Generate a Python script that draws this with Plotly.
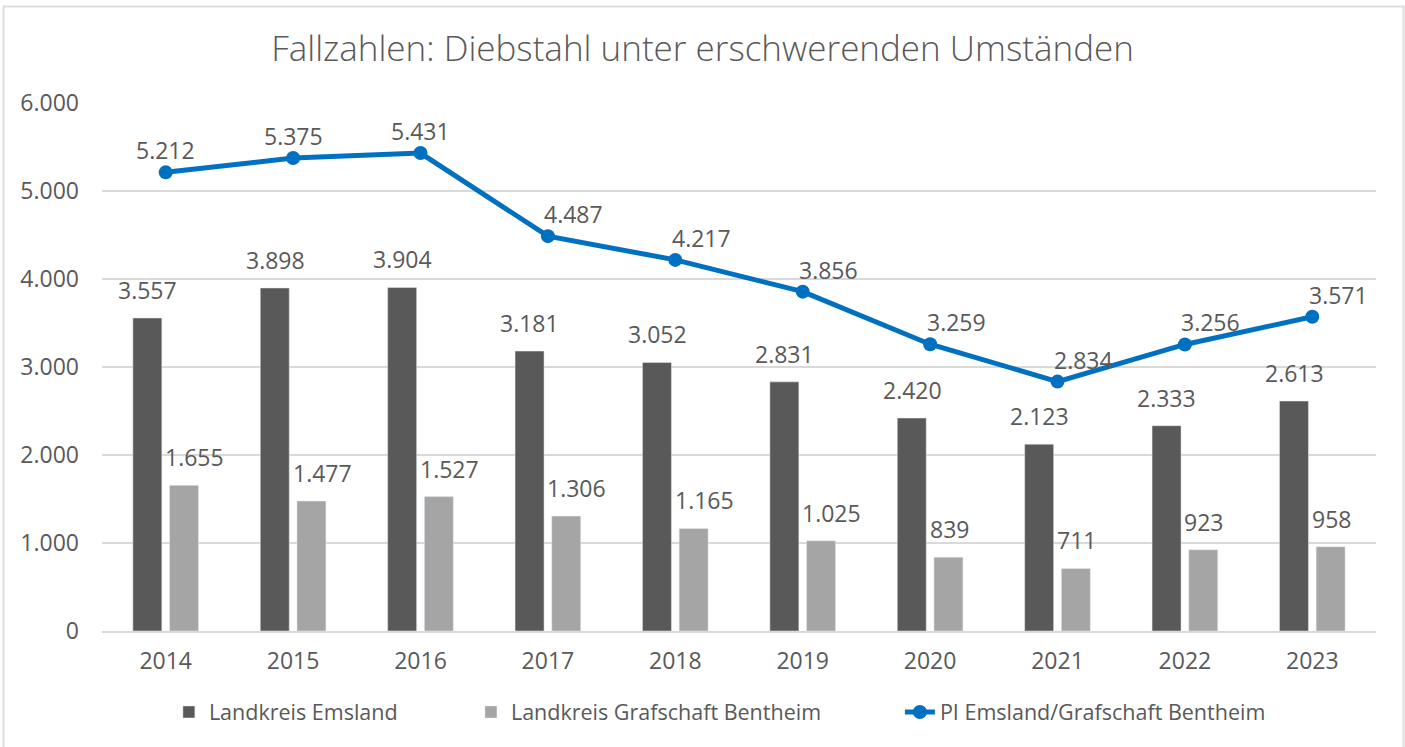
import plotly.graph_objects as go

years = ["2014", "2015", "2016", "2017", "2018", "2019", "2020", "2021", "2022", "2023"]
emsland = [3557, 3898, 3904, 3181, 3052, 2831, 2420, 2123, 2333, 2613]
bentheim = [1655, 1477, 1527, 1306, 1165, 1025, 839, 711, 923, 958]
pi_total = [5212, 5375, 5431, 4487, 4217, 3856, 3259, 2834, 3256, 3571]
y_ticks = [0, 1000, 2000, 3000, 4000, 5000, 6000]

def de(v):
    return f"{v:,}".replace(",", ".")

TXT = "#595959"
FONT = "Open Sans"
LBL = 23

fig = go.Figure()
fig.add_trace(go.Bar(x=years, y=emsland, name="Landkreis Emsland",
                     marker=dict(color="#595959"), legend="legend"))
fig.add_trace(go.Bar(x=years, y=bentheim, name="Landkreis Grafschaft Bentheim",
                     marker=dict(color="#A5A5A5"), legend="legend2"))
fig.add_trace(go.Scatter(x=years, y=pi_total, name="PI Emsland/Grafschaft Bentheim",
                         mode="lines+markers",
                         line=dict(color="#0070C0", width=5),
                         marker=dict(color="#0070C0", size=14),
                         cliponaxis=False, legend="legend3"))

ann = []
for i, v in enumerate(emsland):
    ann.append(dict(x=i, y=v, xref="x", yref="y", text=de(v), showarrow=False,
                    xshift=-18, yshift=10, yanchor="bottom",
                    font=dict(size=LBL, color=TXT, family=FONT)))
for i, v in enumerate(bentheim):
    ann.append(dict(x=i, y=v, xref="x", yref="y", text=de(v), showarrow=False,
                    xshift=29 if v >= 1000 else 19, yshift=10, yanchor="bottom",
                    font=dict(size=LBL, color=TXT, family=FONT)))
for i, v in enumerate(pi_total):
    ann.append(dict(x=i, y=v, xref="x", yref="y", text=de(v), showarrow=False,
                    xshift=0 if i < 3 else 26, yshift=22, yanchor="middle",
                    font=dict(size=LBL, color=TXT, family=FONT)))

leg_common = dict(orientation="h", xanchor="left", y=-0.1534, yanchor="middle",
                  font=dict(size=21.5, color=TXT, family=FONT), bgcolor="rgba(0,0,0,0)")

fig.update_layout(
    width=1405, height=747,
    margin=dict(l=102, r=29, t=103, b=116),
    paper_bgcolor="white", plot_bgcolor="white",
    font=dict(family=FONT, size=LBL, color=TXT),
    title=dict(text="Fallzahlen: Diebstahl unter erschwerenden Umständen",
               x=0.5, xanchor="center", y=0.935, yanchor="middle",
               font=dict(size=35, color=TXT, family=FONT, weight=300)),
    barmode="group", bargap=0.424, bargroupgap=0.21,
    showlegend=True,
    legend=dict(x=0.0525, **leg_common),
    legend2=dict(x=0.2896, **leg_common),
    legend3=dict(x=0.6263, **leg_common),
    annotations=ann,
    shapes=[dict(type="rect", xref="paper", yref="paper",
                 x0=-0.0773, x1=1.0216, y0=-0.3, y1=1.1828,
                 line=dict(color="#DDDDDD", width=2), layer="below")],
)
fig.update_xaxes(type="category", range=[-0.5, len(years) - 0.5],
                 showgrid=False, showline=True, linecolor="#D9D9D9",
                 linewidth=2, ticks="", ticklabelstandoff=8,
                 tickfont=dict(size=LBL, color=TXT))
fig.update_yaxes(range=[0, 6000], tickvals=y_ticks, ticktext=[de(v) for v in y_ticks],
                 showgrid=True, gridcolor="#D9D9D9", gridwidth=2, zeroline=False,
                 showline=False, ticks="", ticklabelstandoff=22,
                 tickfont=dict(size=LBL, color=TXT))

fig.write_html("out.html", config={"displayModeBar": False},
               post_script="document.body.style.margin='0';")
